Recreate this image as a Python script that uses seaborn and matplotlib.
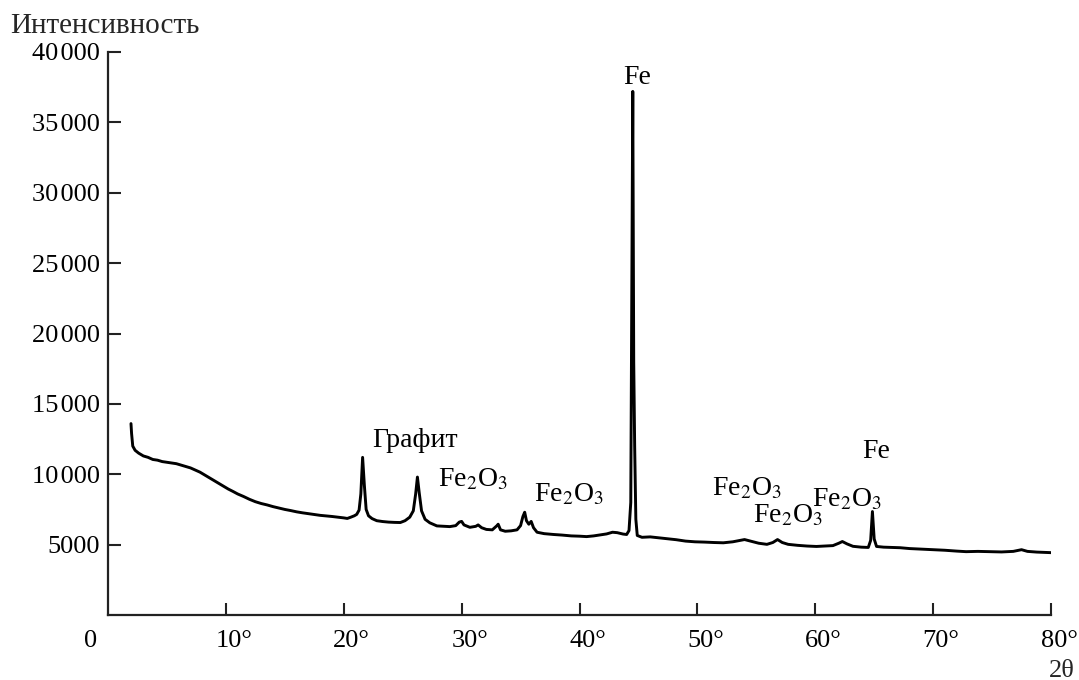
import numpy as np
import pandas as pd
import matplotlib
matplotlib.use("Agg")
import matplotlib.pyplot as plt
import matplotlib.transforms as mtransforms
import seaborn as sns

# ---- data ----
two_theta = [
    1.95, 2.0, 2.1, 2.3, 2.6, 3.0, 3.4, 3.8, 4.2, 4.6, 5.0, 5.4, 5.8, 6.2, 6.6, 7.0,
    7.4, 7.8, 8.2, 8.6, 9.0, 9.4, 9.8, 10.2, 10.6, 11.0, 11.5, 12.0, 12.5, 13.0, 13.5,
    14.0, 14.5, 15.0, 15.5, 16.0, 16.5, 17.0, 17.5, 18.0, 18.5, 19.0, 19.5, 20.0, 20.3,
    20.6, 20.9, 21.1, 21.3, 21.45, 21.6, 21.75, 21.9, 22.1, 22.4, 22.8, 23.3, 23.8, 24.3,
    24.8, 25.2, 25.6, 25.9, 26.1, 26.25, 26.4, 26.6, 26.9, 27.3, 27.9, 28.5, 29.0, 29.5,
    29.8, 30.0, 30.2, 30.7, 31.2, 31.4, 31.7, 32.1, 32.6, 33.0, 33.1, 33.3, 33.7, 34.2,
    34.7, 35.0, 35.2, 35.35, 35.5, 35.7, 35.9, 36.1, 36.4, 37.0, 37.8, 38.5, 39.3, 40.0,
    40.6, 41.2, 41.8, 42.3, 42.8, 43.2, 43.7, 44.0, 44.2, 44.35, 44.45, 44.52, 44.6,
    44.68, 44.78, 44.9, 45.3, 46.0, 46.8, 47.5, 48.2, 49.0, 49.8, 50.6, 51.4, 52.2, 53.0,
    53.6, 54.0, 54.5, 55.2, 55.9, 56.4, 56.8, 57.2, 57.7, 58.5, 59.3, 60.1, 60.8, 61.5,
    62.0, 62.3, 62.7, 63.2, 63.9, 64.5, 64.7, 64.85, 65.0, 65.2, 65.8, 66.5, 67.2, 68.0,
    69.0, 70.0, 71.0, 72.0, 72.8, 73.8, 74.8, 75.8, 76.8, 77.5, 78.0, 78.8, 79.5, 80.0,
]
intensity = [
    13600, 12900, 12000, 11700, 11500, 11300, 11200, 11050, 11000, 10900, 10850, 10800,
    10750, 10650, 10550, 10450, 10300, 10150, 9950, 9750, 9550, 9350, 9150, 8950, 8780,
    8600, 8420, 8220, 8050, 7920, 7820, 7700, 7600, 7500, 7420, 7330, 7260, 7200, 7140,
    7080, 7040, 7000, 6950, 6900, 6860, 6950, 7050, 7150, 7450, 8600, 11200, 9200, 7500,
    7050, 6850, 6700, 6640, 6600, 6580, 6570, 6700, 6950, 7400, 8600, 9800, 8700, 7400,
    6800, 6550, 6330, 6300, 6280, 6350, 6600, 6650, 6400, 6230, 6300, 6400, 6200, 6080,
    6050, 6350, 6450, 6050, 5950, 5980, 6050, 6350, 7000, 7300, 6700, 6450, 6650, 6200,
    5880, 5780, 5720, 5680, 5620, 5600, 5570, 5620, 5700, 5760, 5880, 5850, 5750, 5720,
    6000, 8000, 25000, 37200, 18000, 12000, 6800, 5650, 5520, 5550, 5480, 5420, 5350,
    5250, 5200, 5180, 5150, 5130, 5200, 5300, 5360, 5250, 5100, 5020, 5150, 5360, 5150,
    5020, 4950, 4900, 4870, 4900, 4930, 5100, 5220, 5050, 4880, 4820, 4800, 5300, 7350,
    5400, 4870, 4820, 4800, 4780, 4720, 4680, 4640, 4600, 4540, 4500, 4520, 4500, 4480,
    4520, 4640, 4520, 4470, 4450, 4430,
]

x_ticks = [0, 10, 20, 30, 40, 50, 60, 70, 80]
x_tick_labels = ["0", "10°", "20°", "30°", "40°", "50°", "60°", "70°", "80°"]
y_ticks = [5000, 10000, 15000, 20000, 25000, 30000, 35000, 40000]
y_tick_labels = ["5000", "10\u200a000", "15\u200a000", "20\u200a000", "25\u200a000",
                 "30\u200a000", "35\u200a000", "40\u200a000"]

peak_labels = ["Fe", "Графит", "Fe$_2$O$_3$", "Fe$_2$O$_3$", "Fe$_2$O$_3$",
               "Fe$_2$O$_3$", "Fe$_2$O$_3$", "Fe"]
peak_label_x = [43.7, 22.4, 28.0, 36.1, 51.2, 54.7, 59.7, 64.0]
peak_label_y = [37700, 11930, 9140, 8070, 8500, 6570, 7710, 11140]

# ---- style ----
sns.set_theme(style="ticks")
plt.rcParams["font.family"] = ["Liberation Serif", "DejaVu Serif"]
plt.rcParams["mathtext.fontset"] = "stix"

FS = 19
FS_TXT = 20
fig = plt.figure(figsize=(10.79, 6.80), dpi=100)
ax = fig.add_axes([108 / 1079, 1 - 615 / 680, (1051 - 108) / 1079, (615 - 52) / 680])

df = pd.DataFrame({"two_theta": two_theta, "intensity": intensity})
sns.lineplot(data=df, x="two_theta", y="intensity", ax=ax, color="black",
             linewidth=2.1, sort=False)

ax.set_xlim(0, 80)
ax.set_ylim(0, 40000)
ax.set_xlabel("")
ax.set_ylabel("")
sns.despine(ax=ax)
for s in ("left", "bottom"):
    ax.spines[s].set_linewidth(1.6)
    ax.spines[s].set_color("#222222")

ax.set_xticks(x_ticks)
ax.set_xticklabels(x_tick_labels, fontsize=FS)
ax.set_yticks(y_ticks)
ax.set_yticklabels(y_tick_labels, fontsize=FS)
ax.tick_params(axis="both", direction="in", length=9, width=1.5, color="#222222",
               labelcolor="black")
ax.tick_params(axis="x", pad=11)
ax.tick_params(axis="y", pad=6)

# hide the tick mark at x=0 (coincides with the spine) and shift labels
xticks = ax.xaxis.get_major_ticks()
xticks[0].tick1line.set_visible(False)
for i, lab in enumerate(ax.get_xticklabels()):
    dx = -17 / 100 if i == 0 else 8 / 100
    lab.set_transform(lab.get_transform() +
                      mtransforms.ScaledTranslation(dx, 0, fig.dpi_scale_trans))

for t, px, py in zip(peak_labels, peak_label_x, peak_label_y):
    ax.text(px, py, t, fontsize=FS_TXT, ha="left", va="baseline", color="black")

fig.text(10 / 1079, 1 - 33 / 680, "Интенсивность", fontsize=21, ha="left",
         va="baseline")
fig.text(1049 / 1079, 1 - 677 / 680, "2θ", fontsize=FS, ha="left", va="baseline")

fig.savefig("out.png", dpi=100)
